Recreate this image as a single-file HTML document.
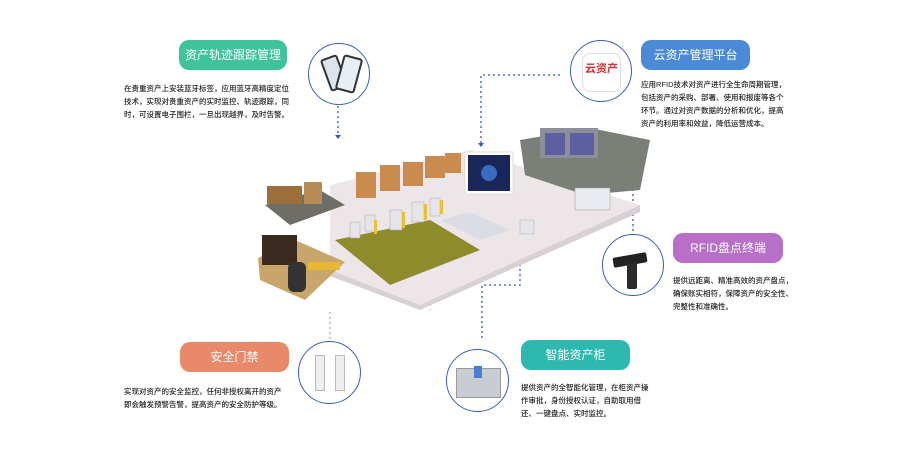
<!DOCTYPE html>
<html><head><meta charset="utf-8"><style>
body{margin:0;width:920px;height:457px;background:#fff;position:relative;overflow:hidden;font-family:"Liberation Sans","Noto Sans CJK SC",sans-serif}
.pill{position:absolute;height:30px;border-radius:10px;color:#fff;font-size:12px;line-height:30px;text-align:center;white-space:nowrap}
.t{position:absolute;font-size:7.5px;line-height:13px;color:#222;white-space:nowrap;font-weight:500}
.c{position:absolute;border:1.3px solid #3a5fb8;border-radius:50%;background:#fff;box-sizing:border-box}
svg{position:absolute;left:0;top:0}
</style></head><body>
<svg width="920" height="457">
<g fill="none" stroke-dasharray="2,3" stroke-width="1.3">
<path d="M338 101V135" stroke="#3457b0"/>
<path d="M560 75H481V143" stroke="#3457b0"/>
<path d="M633 236V173H567" stroke="#3457b0"/>
<path d="M430 264V310M330 312V340" stroke="#aab"/>
<path d="M520 239V285H482V340" stroke="#3457b0"/>
</g>
<g fill="#3457b0"><path d="M335 135h6l-3 4z"/><path d="M478 143h6l-3 4z"/><path d="M567 170v6l-4-3z"/><path d="M427 264h6l-3-4z"/><path d="M517 239h6l-3-4z"/></g>
<!-- floor -->
<polygon points="330,185 470,150 640,205 420,305 330,270" fill="#ece6e8"/>
<polygon points="330,270 420,305 640,205 640,212 420,310 330,276" fill="#d8d0d4"/>
<polygon points="335,240 430,220 480,250 390,285" fill="#8f8a2c"/>
<polygon points="440,220 470,212 510,230 480,240" fill="#dcdde4"/>
<g fill="#c98b4e"><rect x="356" y="172" width="20" height="26"/><rect x="380" y="165" width="20" height="26"/><rect x="403" y="162" width="20" height="24"/><rect x="425" y="156" width="20" height="22"/><rect x="445" y="153" width="16" height="20"/></g>
<rect x="465" y="152" width="48" height="42" fill="#fff" stroke="#ddd"/><rect x="468" y="155" width="42" height="36" fill="#1a2658"/>
<circle cx="489" cy="173" r="8" fill="#3a6cc0"/>
<g fill="#e4e4ea" stroke="#aaa" stroke-width=".5"><rect x="350" y="222" width="10" height="16"/><rect x="365" y="215" width="10" height="16"/><rect x="390" y="210" width="12" height="20"/><rect x="412" y="202" width="12" height="20"/><rect x="430" y="198" width="10" height="18"/><rect x="520" y="220" width="14" height="14"/></g>
<g fill="#e8c230"><rect x="374" y="220" width="3" height="14"/><rect x="402" y="212" width="3" height="16"/><rect x="424" y="204" width="3" height="16"/><rect x="440" y="200" width="3" height="14"/></g>
<!-- warehouse -->
<polygon points="520,140 590,128 650,140 640,190 585,195 525,175" fill="#7a8078"/>
<rect x="540" y="128" width="58" height="30" fill="#8c8f9a"/><g fill="#5c60a0"><rect x="545" y="133" width="20" height="22"/><rect x="570" y="133" width="24" height="22"/></g>
<rect x="575" y="188" width="35" height="22" fill="#e8ecf0" stroke="#999" stroke-width=".5"/>
<!-- left rooms -->
<polygon points="265,205 320,190 345,205 290,225" fill="#6e6e66"/>
<rect x="267" y="186" width="35" height="18" fill="#9c6f3d"/><rect x="304" y="182" width="18" height="22" fill="#b88a55"/>
<polygon points="258,258 295,240 345,262 305,300 260,280" fill="#c8a56a"/>
<rect x="262" y="235" width="35" height="30" fill="#3a2a20"/><rect x="288" y="262" width="18" height="30" rx="6" fill="#333"/><rect x="308" y="262" width="32" height="8" fill="#e9b733"/>
</svg>
<div class="pill" style="left:179px;top:40px;width:108px;background:#3ec39a">资产轨迹跟踪管理</div>
<div class="t" style="left:124px;top:82px">在贵重资产上安装蓝牙标签，应用蓝牙高精度定位<br>技术，实现对贵重资产的实时监控、轨迹跟踪，同<br>时，可设置电子围栏，一旦出现越界，及时告警。</div>
<div class="c" style="left:308px;top:43px;width:62px;height:62px"><div style="position:absolute;left:16px;top:12px;width:14px;height:30px;background:#dde4ee;border:2px solid #333;border-radius:3px;transform:rotate(-20deg)"></div><div style="position:absolute;left:30px;top:12px;width:16px;height:32px;background:#e8eef6;border:2px solid #333;border-radius:3px;transform:rotate(15deg)"></div></div>
<div class="pill" style="left:641px;top:40px;width:109px;background:#4a8ad6">云资产管理平台</div>
<div class="t" style="left:641px;top:78px">应用RFID技术对资产进行全生命周期管理，<br>包括资产的采购、部署、使用和报废等各个<br>环节。通过对资产数据的分析和优化，提高<br>资产的利用率和效益，降低运营成本。</div>
<div class="c" style="left:570px;top:40px;width:62px;height:62px"><div style="position:absolute;left:11px;top:12px;width:37px;height:37px;border:1px solid #ddd;border-radius:8px;color:#d93030;font-size:11px;font-weight:bold;line-height:30px;text-align:center">云资产</div></div>
<div class="pill" style="left:673px;top:233px;width:110px;background:#b76fc7">RFID盘点终端</div>
<div class="t" style="left:673px;top:274px">提供远距离、精准高效的资产盘点，<br>确保账实相符，保障资产的安全性、<br>完整性和准确性。</div>
<div class="c" style="left:602px;top:234px;width:62px;height:62px"><div style="position:absolute;left:10px;top:20px;width:34px;height:10px;background:#222;transform:rotate(-10deg);border-radius:2px"></div><div style="position:absolute;left:24px;top:28px;width:10px;height:26px;background:#2a2a2a;border-radius:2px"></div></div>
<div class="pill" style="left:180px;top:342px;width:109px;background:#e8896a">安全门禁</div>
<div class="t" style="left:124px;top:385px">实现对资产的安全监控，任何非授权离开的资产<br>即会触发预警告警，提高资产的安全防护等级。</div>
<div class="c" style="left:298px;top:341px;width:63px;height:63px"><div style="position:absolute;left:16px;top:13px;width:8px;height:34px;background:#eee;border:1px solid #bbb"></div><div style="position:absolute;left:36px;top:13px;width:8px;height:34px;background:#eee;border:1px solid #bbb"></div></div>
<div class="pill" style="left:521px;top:340px;width:109px;background:#2db8b0">智能资产柜</div>
<div class="t" style="left:521px;top:381px">提供资产的全智能化管理，在柜资产操<br>作审批，身份授权认证，自助取用借<br>还、一键盘点、实时监控。</div>
<div class="c" style="left:446px;top:349px;width:63px;height:63px"><div style="position:absolute;left:9px;top:18px;width:43px;height:28px;background:#c9ccd2;border:1px solid #999"></div><div style="position:absolute;left:27px;top:16px;width:8px;height:12px;background:#4a7ed0"></div></div>
</body></html>
